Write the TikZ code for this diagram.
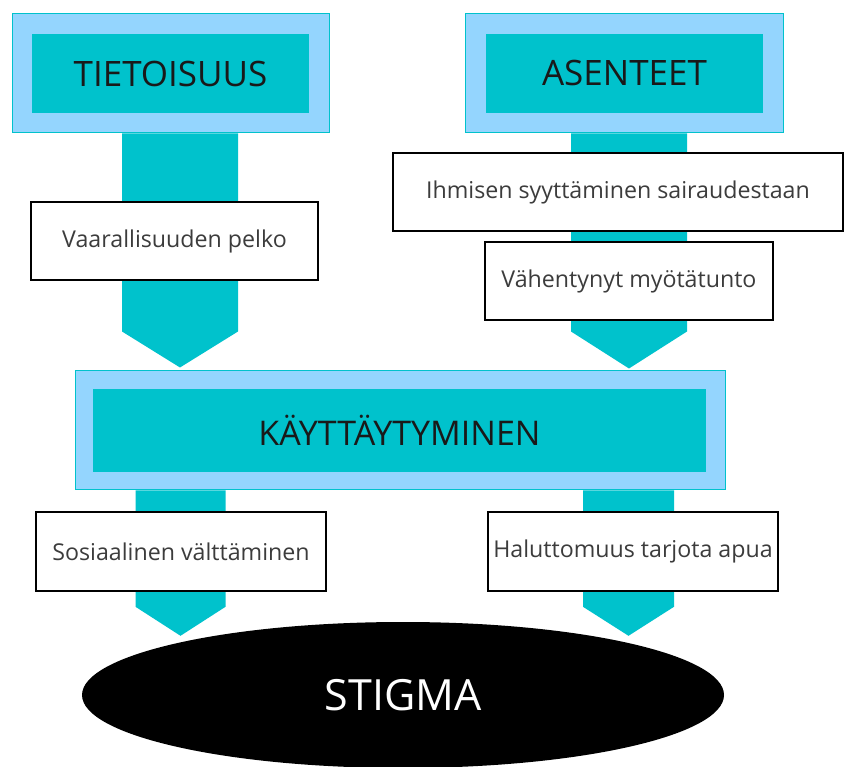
\documentclass[tikz,border=0pt]{standalone}
\usepackage{fontspec}
\setmainfont{Open Sans}
\usetikzlibrary{calc,shapes.geometric}
\pgfdeclarelayer{background}
\pgfsetlayers{background,main}

\definecolor{tealfill}{RGB}{0,194,204}
\definecolor{skyfill}{RGB}{148,213,254}
\definecolor{titletext}{RGB}{25,25,25}
\definecolor{labeltext}{RGB}{60,60,60}

\tikzset{
  outerbox/.style={draw=tealfill, line width=1pt, fill=skyfill, inner sep=0pt},
  innerbox/.style={fill=tealfill, inner sep=0pt, text=titletext,
    font=\fontsize{35}{41}\selectfont},
  labelbox/.style={draw=black, line width=2.2pt, fill=white, inner sep=0pt,
    text=labeltext, font=\fontsize{23.2}{28}\selectfont},
  stemfill/.style={fill=tealfill},
}

% stem arrow: start, tip, half width, head height
\newcommand\stemarrow[4]{%
  \fill[stemfill] ($(#1)+(-#3,0)$) -- ($(#1)+(#3,0)$) -- ($(#2)+(#3,#4)$)
    -- (#2) -- ($(#2)+(-#3,#4)$) -- cycle;}

\begin{document}
\begin{tikzpicture}[x=1pt,y=1pt]
\useasboundingbox (0,0) rectangle (847,-767);

% top sources
\node[outerbox, minimum width=317, minimum height=119] (tietO) at (170.5,-73.5) {};
\node[innerbox, minimum width=277, minimum height=79] (tiet) at (170.5,-73.5) {TIETOISUUS};
\node[outerbox, minimum width=318, minimum height=119] (asenO) at (624,-73.5) {};
\node[innerbox, minimum width=277, minimum height=79] (asen) at (624.5,-73.5) {ASENTEET};

% middle
\node[outerbox, minimum width=650, minimum height=119] (kayO) at (400,-430.5) {};
\node[innerbox, minimum width=613, minimum height=83, font=\fontsize{34}{40}\selectfont] (kay) at (399.5,-430.5) {KÄYTTÄYTYMINEN};

% result
\node[ellipse, fill=black, minimum width=642, minimum height=146, inner sep=0pt,
  text=white, font=\fontsize{43}{50}\selectfont] (stigma) at (403,-695) {STIGMA};

% stems, drawn beneath the label boxes
\coordinate (x1) at (180,0);
\coordinate (x2) at (629,0);
\coordinate (x3) at (180.5,0);
\coordinate (x4) at (628.5,0);
\begin{pgfonlayer}{background}
  \coordinate (s1) at (tietO.south -| x1);
  \coordinate (e1) at ($(kayO.north -| x1)+(0,3)$);
  \stemarrow{s1}{e1}{58}{36}
  \coordinate (s2) at (asenO.south -| x2);
  \coordinate (e2) at ($(kayO.north -| x2)+(0,2)$);
  \stemarrow{s2}{e2}{58}{37}
  \coordinate (s3) at (kayO.south -| x3);
  \coordinate (e3) at ($(stigma.north -| x3)+(0,-14)$);
  \stemarrow{s3}{e3}{45}{29}
  \coordinate (s4) at (kayO.south -| x4);
  \coordinate (e4) at ($(stigma.north -| x4)+(0,-14)$);
  \stemarrow{s4}{e4}{45.5}{29}
\end{pgfonlayer}

% label boxes on the stems
\node[labelbox, minimum width=287, minimum height=78] (vaar) at (174.5,-241) {Vaarallisuuden pelko};
\node[labelbox, minimum width=450, minimum height=78] (ihm) at (618,-192) {Ihmisen syyttäminen sairaudestaan};
\node[labelbox, minimum width=288, minimum height=78] (vah) at (629,-281) {Vähentynyt myötätunto};
\node[labelbox, minimum width=290, minimum height=79] (sos) at (181,-551.5) {Sosiaalinen välttäminen};
\node[labelbox, minimum width=290, minimum height=79] (hal) at (633,-551.5) {Haluttomuus tarjota apua};
\end{tikzpicture}
\end{document}
